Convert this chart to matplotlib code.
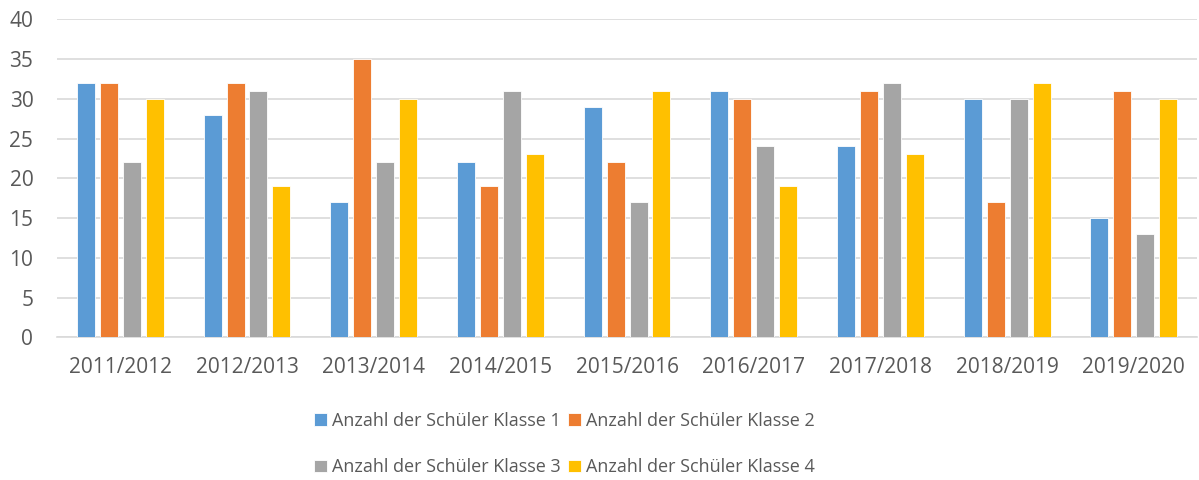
import numpy as np
import matplotlib.pyplot as plt

# Schuljahre und Schülerzahlen je Klasse
jahre = ['2011/2012', '2012/2013', '2013/2014', '2014/2015', '2015/2016',
         '2016/2017', '2017/2018', '2018/2019', '2019/2020']
klasse_1 = [32, 28, 17, 22, 29, 31, 24, 30, 15]
klasse_2 = [32, 32, 35, 19, 22, 30, 31, 17, 31]
klasse_3 = [22, 31, 22, 31, 17, 24, 32, 30, 13]
klasse_4 = [30, 19, 30, 23, 31, 19, 23, 32, 30]

serien = [klasse_1, klasse_2, klasse_3, klasse_4]
labels = ['Anzahl der Schüler Klasse 1', 'Anzahl der Schüler Klasse 2',
          'Anzahl der Schüler Klasse 3', 'Anzahl der Schüler Klasse 4']
farben = ['#5B9BD5', '#ED7D31', '#A5A5A5', '#FFC000']

plt.rcParams['font.family'] = ['Open Sans', 'DejaVu Sans']
textfarbe = '#595959'

fig = plt.figure(figsize=(11.99, 4.8), dpi=100)
ax = fig.add_axes([0.0475, 0.297, 0.951, 0.663])

x = np.arange(len(jahre))
breite = 0.142
abstand = 0.181
handles = []
for i, (werte, lab, col) in enumerate(zip(serien, labels, farben)):
    h = ax.bar(x + (i - 1.5) * abstand, werte, width=breite, color=col,
               label=lab, edgecolor='white', linewidth=0.6, zorder=3)
    handles.append(h)

ax.set_xlim(-0.5, len(jahre) - 0.5)
ax.set_ylim(0, 40)
ax.set_yticks(range(0, 41, 5))
ax.set_xticks(x)
ax.set_xticklabels(jahre)
ax.grid(axis='y', color='#D9D9D9', linewidth=1.2, zorder=0)
for s in ['top', 'right', 'left']:
    ax.spines[s].set_visible(False)
ax.spines['bottom'].set_color('#D9D9D9')
ax.spines['bottom'].set_linewidth(1.2)
ax.tick_params(axis='both', length=0, colors=textfarbe, labelsize=15)
ax.tick_params(axis='x', pad=14)
ax.tick_params(axis='y', pad=17)

# Legende zeilenweise: 1 2 / 3 4
order = [0, 2, 1, 3]
leg = fig.legend([handles[k] for k in order], [labels[k] for k in order],
                 loc='center', bbox_to_anchor=(0.471, 0.075), ncol=2,
                 frameon=False, fontsize=13, handlelength=0.7,
                 handleheight=0.7, handletextpad=0.3, columnspacing=0.4,
                 labelspacing=1.6)
for t in leg.get_texts():
    t.set_color(textfarbe)

fig.savefig('out.png', dpi=100)
